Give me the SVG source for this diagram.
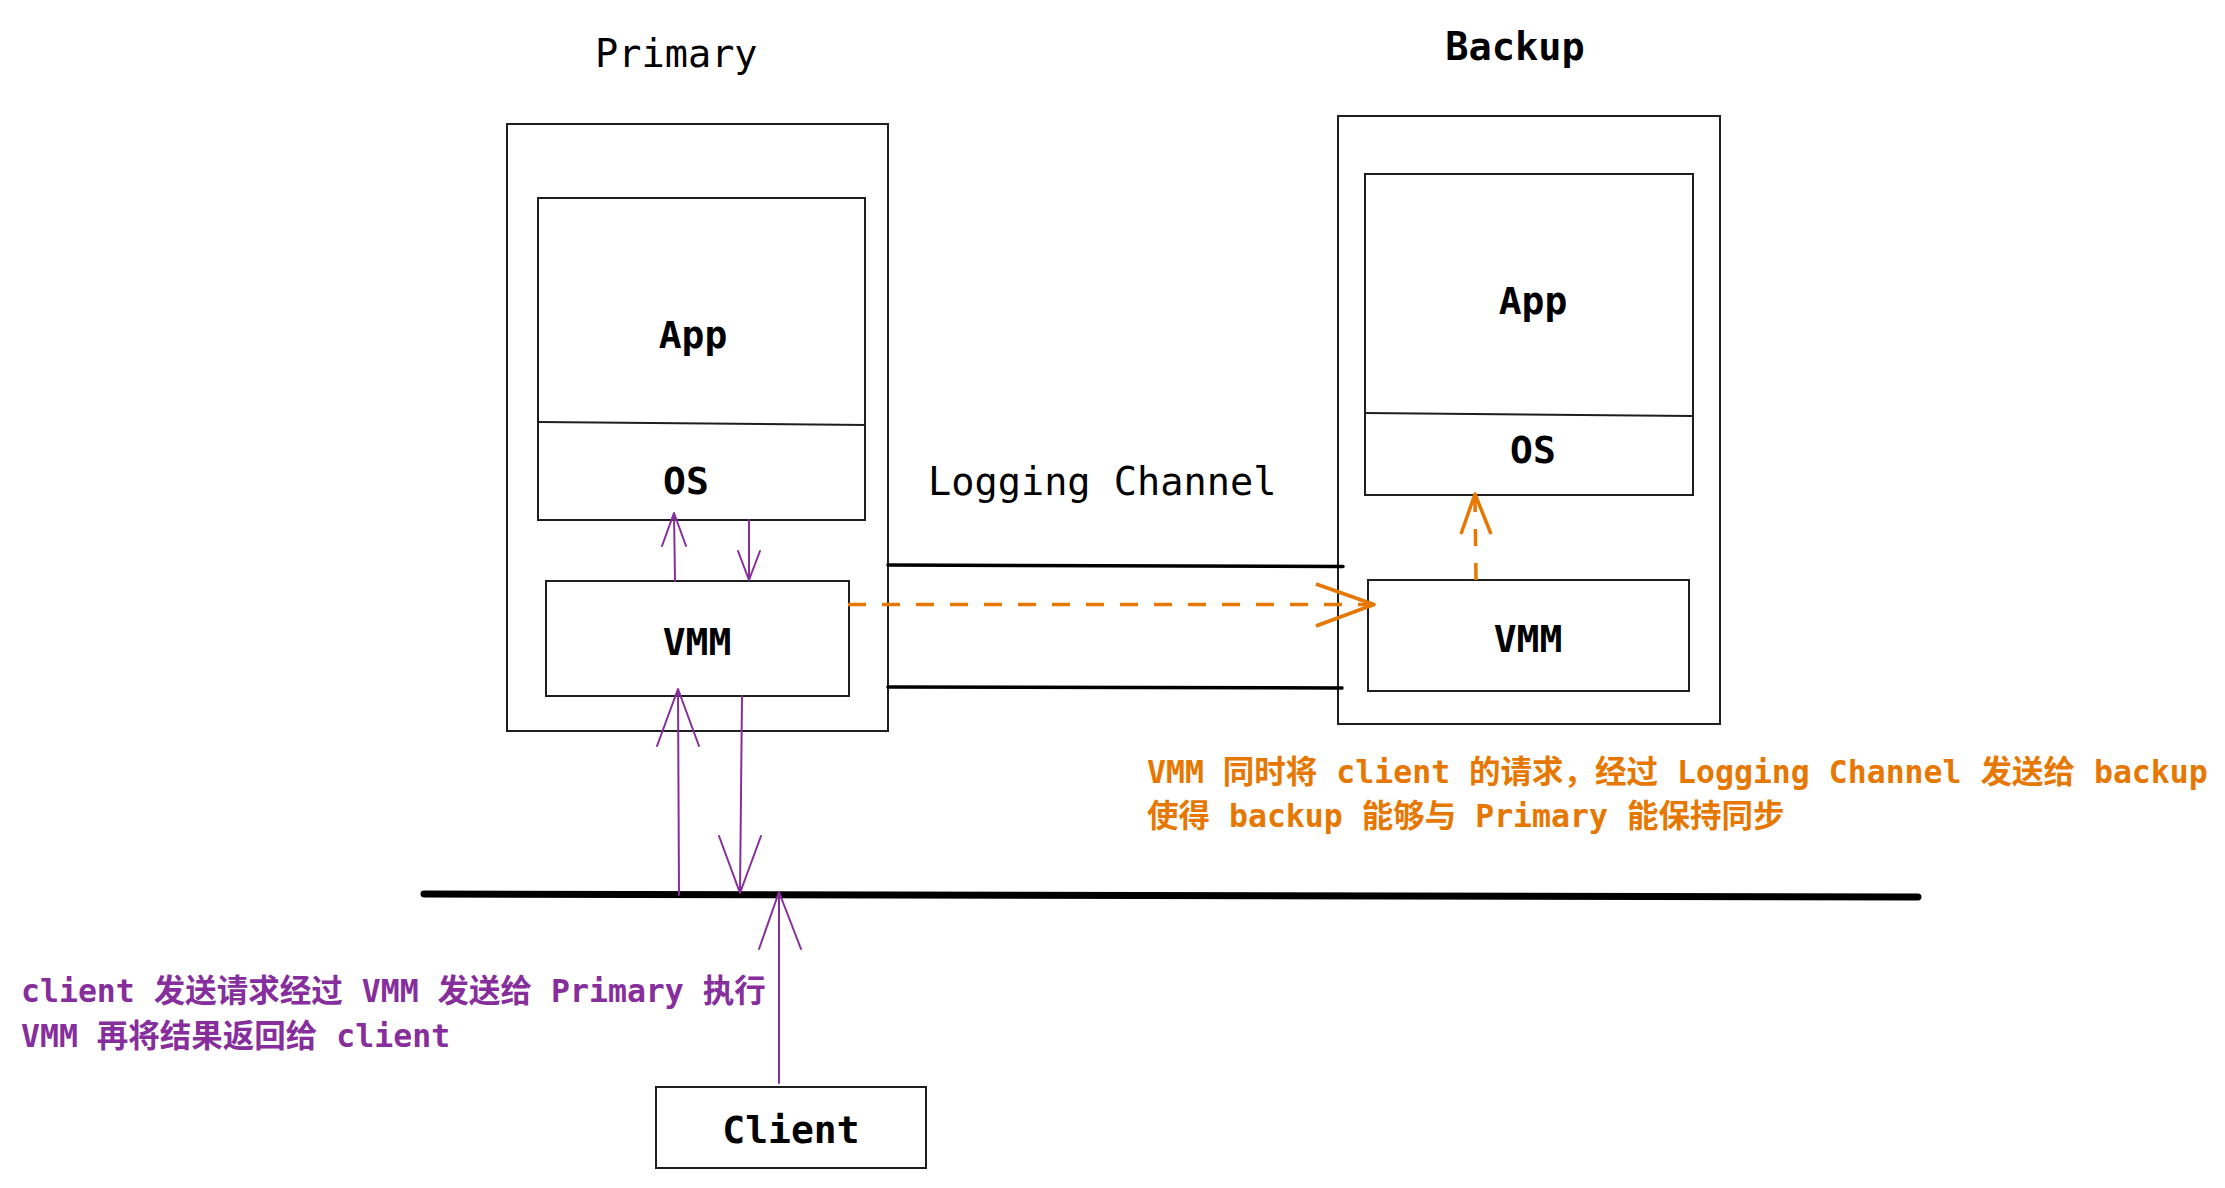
<svg xmlns="http://www.w3.org/2000/svg" width="2225" height="1188" viewBox="0 0 2225 1188">
<style>
.box{fill:none;stroke:#1e1e1e;stroke-width:2}
.lbl{font-family:"DejaVu Sans Mono","Noto Sans CJK SC",monospace;font-size:38px;fill:#000;font-weight:bold;text-anchor:middle}
.head{font-family:"DejaVu Sans Mono","Noto Sans CJK SC",monospace;font-size:38.6px;fill:#000}
.note{font-family:"DejaVu Sans Mono","Noto Sans CJK SC",monospace;font-size:31.5px;font-weight:bold}
.pur{fill:none;stroke:#862e9c;stroke-width:2;stroke-linecap:round;stroke-linejoin:round}
.org{fill:none;stroke:#e67700;stroke-width:3.5;stroke-linecap:butt;stroke-linejoin:round}
.blk{fill:none;stroke:#000;stroke-linecap:round}
</style>
<rect width="2225" height="1188" fill="#fff"/>

<g id="primary">
  <text class="head" x="595" y="67">Primary</text>
  <rect class="box" x="507" y="124" width="381" height="607"/>
</g>
<g id="primary-app-os">
  <rect class="box" x="538" y="198" width="327" height="322"/>
  <path class="box" d="M539 422 L866 425"/>
  <text class="lbl" x="693" y="348">App</text>
  <text class="lbl" x="686" y="494">OS</text>
</g>
<g id="primary-vmm">
  <rect class="box" x="546" y="581" width="303" height="115"/>
  <text class="lbl" x="697" y="655">VMM</text>
</g>

<g id="backup">
  <text class="head" x="1515" y="60" text-anchor="middle" font-weight="bold">Backup</text>
  <rect class="box" x="1338" y="116" width="382" height="608"/>
</g>
<g id="backup-app-os">
  <rect class="box" x="1365" y="174" width="328" height="321"/>
  <path class="box" d="M1365 413 L1693 416"/>
  <text class="lbl" x="1533" y="314">App</text>
  <text class="lbl" x="1533" y="463">OS</text>
</g>
<g id="backup-vmm">
  <rect class="box" x="1368" y="580" width="321" height="111"/>
  <text class="lbl" x="1528" y="652">VMM</text>
</g>

<g id="logging-channel">
  <text class="head" x="928" y="495">Logging Channel</text>
  <path class="blk" stroke-width="3.5" d="M888 565 L1343 566.5"/>
  <path class="blk" stroke-width="3.5" d="M888 687 L1342 688"/>
</g>

<g id="bus">
  <path class="blk" stroke-width="7" d="M424 894 L1918 897"/>
</g>

<g id="client">
  <rect class="box" x="656" y="1087" width="270" height="81"/>
  <text class="lbl" x="791" y="1143">Client</text>
</g>

<g id="connectors">
  <path class="pur" d="M675 581 L674 513 M662 546 L674 513 L686 546"/>
  <path class="pur" d="M749 520 L749 580 M738 551 L749 580 L760 551"/>
  <path class="pur" d="M679 895 L678 689 M657 746 L678 689 L699 746"/>
  <path class="pur" d="M742 696 L740 893 M719 836 L740 893 L761 836"/>
  <path class="pur" d="M779 1083 L779 892 M759 949 L779 892 L801 949"/>
  <path class="org" stroke-dasharray="18 16" d="M848 604.5 L1372 604.5"/>
  <path class="org" d="M1316 584 L1374 604.5 L1316 626"/>
  <path class="org" stroke-dasharray="17 17" d="M1476 580 L1475 498"/>
  <path class="org" d="M1461 534 L1475 494 L1491 534"/>
</g>

<g id="notes">
  <text class="note" fill="#862e9c" x="21" y="1002">client 发送请求经过 VMM 发送给 Primary 执行</text>
  <text class="note" fill="#862e9c" x="21" y="1047">VMM 再将结果返回给 client</text>
  <text class="note" fill="#e67700" x="1147" y="783">VMM 同时将 client 的请求，经过 Logging Channel 发送给 backup</text>
  <text class="note" fill="#e67700" x="1147" y="827">使得 backup 能够与 Primary 能保持同步</text>
</g>
</svg>
